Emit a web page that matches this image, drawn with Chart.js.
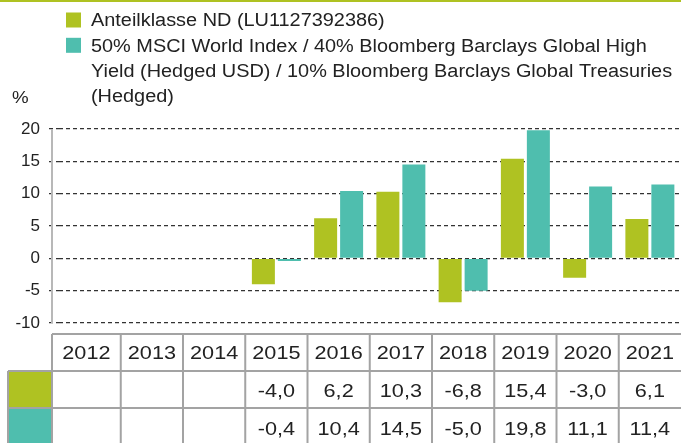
<!DOCTYPE html>
<html>
<head>
<meta charset="utf-8">
<script src="https://cdn.jsdelivr.net/npm/chart.js@4.4.0/dist/chart.umd.min.js"></script>
<style>
  html, body { margin: 0; padding: 0; background: #fff; }
  #wrap { width: 681px; height: 443px; }
</style>
</head>
<body>
<div id="wrap"><canvas id="myChart" width="681" height="443"></canvas></div>
<script>
const years = ["2012", "2013", "2014", "2015", "2016", "2017", "2018", "2019", "2020", "2021"];
const fundValues = [null, null, null, -4.0, 6.2, 10.3, -6.8, 15.4, -3.0, 6.1];
const benchValues = [null, null, null, -0.4, 10.4, 14.5, -5.0, 19.8, 11.1, 11.4];
const fundLabel = ["Anteilklasse ND (LU1127392386)"];
const benchLabel = [
  "50% MSCI World Index / 40% Bloomberg Barclays Global High",
  "Yield (Hedged USD) / 10% Bloomberg Barclays Global Treasuries",
  "(Hedged)"
];
const yUnit = "%";

const green = "#afc222";
const teal = "#4fbeae";
const textColor = "#222";
const fontFamily = "'Liberation Sans', Arial, sans-serif";

function fmt(v) {
  return v === null ? "" : v.toFixed(1).replace(".", ",");
}

// the source font runs a bit wider than Liberation Sans, so stretch it
function wideText(ctx, text, x, y, align, sx) {
  ctx.save();
  ctx.translate(x, y);
  ctx.scale(sx, 1);
  ctx.textAlign = align;
  ctx.fillText(text, 0, 0);
  ctx.restore();
}

// legend, unit label, axis line and data table
const extrasPlugin = {
  id: "extras",
  afterDraw(chart) {
    const ctx = chart.ctx;
    const xScale = chart.scales.x;
    const area = chart.chartArea;
    const W = chart.width;
    ctx.save();

    // thin green rule at the top
    ctx.fillStyle = green;
    ctx.fillRect(0, 0, W, 2);

    // y axis line
    ctx.strokeStyle = "#b8b8b8";
    ctx.lineWidth = 2;
    ctx.beginPath();
    ctx.moveTo(52, area.top);
    ctx.lineTo(52, area.bottom);
    ctx.stroke();

    // legend
    ctx.font = "18px " + fontFamily;
    ctx.textBaseline = "middle";
    const rows = [];
    chart.data.datasets.forEach((ds) => {
      ds.label.forEach((line, i) => rows.push({ text: line, color: i === 0 ? ds.backgroundColor : null }));
    });
    rows.forEach((r, i) => {
      const y = 20.5 + i * 25.3;
      if (r.color) {
        ctx.fillStyle = r.color;
        ctx.fillRect(66, y - 8, 15, 15);
      }
      ctx.fillStyle = textColor;
      wideText(ctx, r.text, 91, y + 1, "left", 1.105);
    });

    // unit
    ctx.font = "17px " + fontFamily;
    wideText(ctx, yUnit, 12, 98, "left", 1.1);

    // table
    const top = 334, row1 = 371, row2 = 408, bottom = 443;
    const tableLeft = 52, swatchLeft = 8;
    const n = years.length;
    const step = xScale.getPixelForValue(1) - xScale.getPixelForValue(0);
    const bounds = [tableLeft];
    for (let i = 0; i < n - 1; i++) bounds.push(xScale.getPixelForValue(i) + step / 2);
    bounds.push(W);

    ctx.fillStyle = green;
    ctx.fillRect(swatchLeft, row1, tableLeft - swatchLeft, row2 - row1);
    ctx.fillStyle = teal;
    ctx.fillRect(swatchLeft, row2, tableLeft - swatchLeft, bottom - row2);

    ctx.strokeStyle = "#a3a3a3";
    ctx.lineWidth = 2;
    ctx.beginPath();
    ctx.moveTo(tableLeft, top); ctx.lineTo(W, top);
    ctx.moveTo(swatchLeft, row1); ctx.lineTo(W, row1);
    ctx.moveTo(swatchLeft, row2); ctx.lineTo(W, row2);
    ctx.moveTo(swatchLeft, row1); ctx.lineTo(swatchLeft, bottom);
    bounds.forEach((b, i) => {
      if (i === bounds.length - 1) return;
      ctx.moveTo(b, top); ctx.lineTo(b, bottom);
    });
    ctx.stroke();

    ctx.font = "19px " + fontFamily;
    ctx.fillStyle = textColor;
    for (let i = 0; i < n; i++) {
      const cx = (bounds[i] + bounds[i + 1]) / 2;
      wideText(ctx, years[i], cx, 354, "center", 1.14);
      wideText(ctx, fmt(fundValues[i]), cx, 392, "center", 1.14);
      wideText(ctx, fmt(benchValues[i]), cx, 429.5, "center", 1.14);
    }
    ctx.restore();
  }
};

const config = {
  type: "bar",
  data: {
    labels: years,
    datasets: [
      { label: fundLabel, data: fundValues, backgroundColor: green },
      { label: benchLabel, data: benchValues, backgroundColor: teal }
    ]
  },
  options: {
    responsive: false,
    animation: false,
    events: [],
    layout: { padding: { top: 129, bottom: 120, left: 0, right: 0 } },
    datasets: {
      bar: { barPercentage: 0.885, categoryPercentage: 0.835, borderWidth: 0 }
    },
    plugins: {
      legend: { display: false },
      tooltip: { enabled: false }
    },
    scales: {
      x: { display: false },
      y: {
        min: -10,
        max: 20,
        ticks: {
          stepSize: 5,
          color: textColor,
          font: { size: 17, family: fontFamily },
          padding: 9
        },
        grid: {
          color: "#333",
          lineWidth: 1.2,
          tickLength: 9.5,
          tickColor: "#333",
          tickWidth: 1.2,
          tickBorderDash: [4, 3]
        },
        border: { display: false, dash: [4, 3] },
        afterFit(scale) { scale.width = 58.5; }
      }
    }
  },
  plugins: [extrasPlugin]
};

const myChart = new Chart(document.getElementById("myChart"), config);
</script>
</body>
</html>
